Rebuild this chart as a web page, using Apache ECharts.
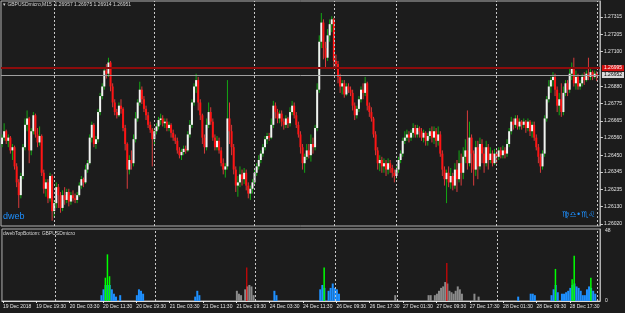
<!DOCTYPE html>
<html>
<head>
<meta charset="utf-8">
<script src="https://cdn.jsdelivr.net/npm/echarts@6/dist/echarts.min.js"></script>
<style>
  html, body { margin: 0; padding: 0; background: #1c1c1c; }
  #chart { width: 625px; height: 313px; }
</style>
</head>
<body>
<div id="chart"></div>
<script>
    // trading sessions: day, first bar time, number of 30 min bars
    var sessions = [
        ['19 Dec', '11:30', 25], ['20 Dec', '00:00', 48], ['21 Dec', '00:00', 48], ['24 Dec', '00:00', 38],
        ['26 Dec', '09:00', 30], ['27 Dec', '00:00', 48], ['28 Dec', '00:00', 48], ['29 Dec', '00:00', 1]
    ];

    var opens = [
        1.2652, 1.2656, 1.2660, 1.2654, 1.2656, 1.2648, 1.2650, 1.2638, 1.2628, 1.2620,
        1.2632, 1.2650, 1.2664, 1.2668, 1.2648, 1.2660, 1.2670, 1.2658, 1.2653, 1.2657,
        1.2634, 1.2624, 1.2628, 1.2618, 1.2632, 1.2610, 1.2615, 1.2625, 1.2620, 1.2612,
        1.2620, 1.2617, 1.2622, 1.2616, 1.2620, 1.2618, 1.2617, 1.2620, 1.2626, 1.2630,
        1.2628, 1.2636, 1.2640, 1.2656, 1.2664, 1.2652, 1.2655, 1.2672, 1.2682, 1.2688,
        1.2698, 1.2696, 1.2703, 1.2688, 1.2678, 1.2672, 1.2670, 1.2676, 1.2674, 1.2662,
        1.2652, 1.2636, 1.2642, 1.2640, 1.2655, 1.2668, 1.2678, 1.2686, 1.2680, 1.2674,
        1.2670, 1.2664, 1.2661, 1.2655, 1.2660, 1.2663, 1.2667, 1.2668, 1.2665, 1.2666,
        1.2662, 1.2664, 1.2659, 1.2656, 1.2654, 1.2648, 1.2645, 1.2647, 1.2649, 1.2648,
        1.2658, 1.2664, 1.2678, 1.2688, 1.2692, 1.2678, 1.2670, 1.2656, 1.2650, 1.2664,
        1.2672, 1.2666, 1.2656, 1.2650, 1.2654, 1.2648, 1.2640, 1.2636, 1.2638, 1.2668,
        1.2660, 1.2650, 1.2636, 1.2626, 1.2628, 1.2633, 1.2630, 1.2634, 1.2626, 1.2621,
        1.2624, 1.2628, 1.2634, 1.2638, 1.2642, 1.2646, 1.2650, 1.2655, 1.2657, 1.2656,
        1.2664, 1.2676, 1.2672, 1.2668, 1.2671, 1.2666, 1.2664, 1.2668, 1.2665, 1.2672,
        1.2676, 1.2670, 1.2664, 1.2658, 1.2650, 1.2640, 1.2644, 1.2648, 1.2645, 1.2652,
        1.2650, 1.2662, 1.2686, 1.2716, 1.2728, 1.2712, 1.2706, 1.2720, 1.2727, 1.2730,
        1.2704, 1.2702, 1.2694, 1.2688, 1.2690, 1.2683, 1.2688, 1.2686, 1.2684, 1.2676,
        1.2670, 1.2674, 1.2680, 1.2686, 1.2684, 1.2690, 1.2676, 1.2672, 1.2668, 1.2658,
        1.2648, 1.2640, 1.2642, 1.2638, 1.2640, 1.2636, 1.2640, 1.2637, 1.2634, 1.2632,
        1.2636, 1.2642, 1.2646, 1.2654, 1.2656, 1.2658, 1.2656, 1.2659, 1.2662, 1.2658,
        1.2662, 1.2660, 1.2656, 1.2659, 1.2654, 1.2657, 1.2660, 1.2656, 1.2660, 1.2654,
        1.2658, 1.2646, 1.2636, 1.2630, 1.2634, 1.2628, 1.2632, 1.2626, 1.2636, 1.2630,
        1.2640, 1.2634, 1.2644, 1.2648, 1.2640, 1.2656, 1.2646, 1.2636, 1.2650, 1.2638,
        1.2652, 1.2646, 1.2640, 1.2650, 1.2642, 1.2646, 1.2640, 1.2646, 1.2644, 1.2648,
        1.2645, 1.2648, 1.2646, 1.2652, 1.2660, 1.2666, 1.2664, 1.2668, 1.2663, 1.2666,
        1.2664, 1.2666, 1.2662, 1.2666, 1.2660, 1.2664, 1.2656, 1.2650, 1.2644, 1.2638,
        1.2646, 1.2668, 1.2680, 1.2688, 1.2692, 1.2694, 1.2686, 1.2676, 1.2680, 1.2672,
        1.2684, 1.2690, 1.2686, 1.2696, 1.2700, 1.2690, 1.2694, 1.2688, 1.2690, 1.2694,
        1.2692, 1.2696, 1.2694, 1.2697, 1.2694, 1.26957
    ];
    var closes = [
        1.2656, 1.2660, 1.2654, 1.2656, 1.2648, 1.2650, 1.2638, 1.2628, 1.2620, 1.2632,
        1.2650, 1.2664, 1.2668, 1.2648, 1.2660, 1.2670, 1.2658, 1.2653, 1.2657, 1.2634,
        1.2624, 1.2628, 1.2618, 1.2632, 1.2610, 1.2615, 1.2625, 1.2620, 1.2612, 1.2620,
        1.2617, 1.2622, 1.2616, 1.2620, 1.2618, 1.2617, 1.2620, 1.2626, 1.2630, 1.2628,
        1.2636, 1.2640, 1.2656, 1.2664, 1.2652, 1.2655, 1.2672, 1.2682, 1.2688, 1.2698,
        1.2696, 1.2703, 1.2688, 1.2678, 1.2672, 1.2670, 1.2676, 1.2674, 1.2662, 1.2652,
        1.2636, 1.2642, 1.2640, 1.2655, 1.2668, 1.2678, 1.2686, 1.2680, 1.2674, 1.2670,
        1.2664, 1.2661, 1.2655, 1.2660, 1.2663, 1.2667, 1.2668, 1.2665, 1.2666, 1.2662,
        1.2664, 1.2659, 1.2656, 1.2654, 1.2648, 1.2645, 1.2647, 1.2649, 1.2648, 1.2658,
        1.2664, 1.2678, 1.2688, 1.2692, 1.2678, 1.2670, 1.2656, 1.2650, 1.2664, 1.2672,
        1.2666, 1.2656, 1.2650, 1.2654, 1.2648, 1.2640, 1.2636, 1.2638, 1.2668, 1.2660,
        1.2650, 1.2636, 1.2626, 1.2628, 1.2633, 1.2630, 1.2634, 1.2626, 1.2621, 1.2624,
        1.2628, 1.2634, 1.2638, 1.2642, 1.2646, 1.2650, 1.2655, 1.2657, 1.2656, 1.2664,
        1.2676, 1.2672, 1.2668, 1.2671, 1.2666, 1.2664, 1.2668, 1.2665, 1.2672, 1.2676,
        1.2670, 1.2664, 1.2658, 1.2650, 1.2640, 1.2644, 1.2648, 1.2645, 1.2652, 1.2650,
        1.2662, 1.2686, 1.2716, 1.2728, 1.2712, 1.2706, 1.2720, 1.2727, 1.2730, 1.2704,
        1.2702, 1.2694, 1.2688, 1.2690, 1.2683, 1.2688, 1.2686, 1.2684, 1.2676, 1.2670,
        1.2674, 1.2680, 1.2686, 1.2684, 1.2690, 1.2676, 1.2672, 1.2668, 1.2658, 1.2648,
        1.2640, 1.2642, 1.2638, 1.2640, 1.2636, 1.2640, 1.2637, 1.2634, 1.2632, 1.2636,
        1.2642, 1.2646, 1.2654, 1.2656, 1.2658, 1.2656, 1.2659, 1.2662, 1.2658, 1.2662,
        1.2660, 1.2656, 1.2659, 1.2654, 1.2657, 1.2660, 1.2656, 1.2660, 1.2654, 1.2658,
        1.2646, 1.2636, 1.2630, 1.2634, 1.2628, 1.2632, 1.2626, 1.2636, 1.2630, 1.2640,
        1.2634, 1.2644, 1.2648, 1.2640, 1.2656, 1.2646, 1.2636, 1.2650, 1.2638, 1.2652,
        1.2646, 1.2640, 1.2650, 1.2642, 1.2646, 1.2640, 1.2646, 1.2644, 1.2648, 1.2645,
        1.2648, 1.2646, 1.2652, 1.2660, 1.2666, 1.2664, 1.2668, 1.2663, 1.2666, 1.2664,
        1.2666, 1.2662, 1.2666, 1.2660, 1.2664, 1.2656, 1.2650, 1.2644, 1.2638, 1.2646,
        1.2668, 1.2680, 1.2688, 1.2692, 1.2694, 1.2686, 1.2676, 1.2680, 1.2672, 1.2684,
        1.2690, 1.2686, 1.2696, 1.2700, 1.2690, 1.2694, 1.2688, 1.2690, 1.2694, 1.2692,
        1.2696, 1.2694, 1.2697, 1.2694, 1.2696, 1.26951
    ];
    var lows = [
        1.2650, 1.2654, 1.2652, 1.2650, 1.2646, 1.2642, 1.2636, 1.2625, 1.2612, 1.2618,
        1.2630, 1.2648, 1.2660, 1.2640, 1.2645, 1.2658, 1.2656, 1.2650, 1.2651, 1.2632,
        1.2621, 1.2619, 1.2615, 1.2616, 1.2604, 1.2606, 1.2612, 1.2612, 1.2609, 1.2610,
        1.2614, 1.2615, 1.2613, 1.2614, 1.2616, 1.2615, 1.2615, 1.2619, 1.2624, 1.2625,
        1.2627, 1.2634, 1.2639, 1.2653, 1.2650, 1.2649, 1.2653, 1.2670, 1.2680, 1.2686,
        1.2693, 1.2694, 1.2685, 1.2675, 1.2670, 1.2668, 1.2669, 1.2671, 1.2660, 1.2648,
        1.2624, 1.2633, 1.2636, 1.2638, 1.2653, 1.2666, 1.2676, 1.2677, 1.2672, 1.2667,
        1.2662, 1.2659, 1.2638, 1.2652, 1.2658, 1.2661, 1.2664, 1.2663, 1.2662, 1.2660,
        1.2660, 1.2656, 1.2654, 1.2652, 1.2646, 1.2643, 1.2642, 1.2645, 1.2646, 1.2647,
        1.2656, 1.2662, 1.2676, 1.2684, 1.2673, 1.2667, 1.2652, 1.2646, 1.2648, 1.2662,
        1.2664, 1.2654, 1.2648, 1.2648, 1.2646, 1.2638, 1.2633, 1.2631, 1.2636, 1.2652,
        1.2645, 1.2633, 1.2622, 1.2619, 1.2625, 1.2626, 1.2627, 1.2623, 1.2618, 1.2617,
        1.2621, 1.2626, 1.2632, 1.2636, 1.2640, 1.2644, 1.2648, 1.2652, 1.2654, 1.2655,
        1.2662, 1.2668, 1.2665, 1.2665, 1.2663, 1.2661, 1.2662, 1.2662, 1.2663, 1.2670,
        1.2668, 1.2662, 1.2656, 1.2646, 1.2636, 1.2634, 1.2642, 1.2643, 1.2641, 1.2646,
        1.2648, 1.2660, 1.2684, 1.2712, 1.2705, 1.2700, 1.2704, 1.2716, 1.2722, 1.2700,
        1.2699, 1.2690, 1.2684, 1.2683, 1.2681, 1.2682, 1.2684, 1.2682, 1.2673, 1.2667,
        1.2668, 1.2672, 1.2678, 1.2680, 1.2682, 1.2673, 1.2669, 1.2666, 1.2656, 1.2645,
        1.2636, 1.2635, 1.2634, 1.2634, 1.2632, 1.2633, 1.2634, 1.2631, 1.2628, 1.2630,
        1.2634, 1.2640, 1.2644, 1.2652, 1.2654, 1.2653, 1.2654, 1.2656, 1.2656, 1.2656,
        1.2656, 1.2654, 1.2653, 1.2651, 1.2651, 1.2655, 1.2653, 1.2652, 1.2650, 1.2651,
        1.2644, 1.2632, 1.2626, 1.2615, 1.2625, 1.2624, 1.2623, 1.2624, 1.2622, 1.2628,
        1.2626, 1.2630, 1.2640, 1.2636, 1.2638, 1.2634, 1.2626, 1.2632, 1.2630, 1.2636,
        1.2640, 1.2634, 1.2638, 1.2636, 1.2640, 1.2638, 1.2639, 1.2640, 1.2642, 1.2643,
        1.2643, 1.2643, 1.2644, 1.2650, 1.2658, 1.2661, 1.2662, 1.2661, 1.2661, 1.2661,
        1.2662, 1.2659, 1.2660, 1.2657, 1.2656, 1.2654, 1.2648, 1.2640, 1.2634, 1.2636,
        1.2644, 1.2666, 1.2678, 1.2684, 1.2688, 1.2682, 1.2672, 1.2670, 1.2669, 1.2670,
        1.2682, 1.2682, 1.2684, 1.2692, 1.2688, 1.2686, 1.2686, 1.2686, 1.2688, 1.2689,
        1.2691, 1.2692, 1.2692, 1.2692, 1.2693, 1.26914
    ];
    var highs = [
        1.2658, 1.2665, 1.2661, 1.2658, 1.2657, 1.2652, 1.2651, 1.2640, 1.2630, 1.2634,
        1.2652, 1.2668, 1.2673, 1.2669, 1.2662, 1.2672, 1.2671, 1.2662, 1.2663, 1.2658,
        1.2636, 1.2630, 1.2630, 1.2634, 1.2633, 1.2617, 1.2628, 1.2627, 1.2622, 1.2623,
        1.2625, 1.2624, 1.2624, 1.2622, 1.2623, 1.2621, 1.2622, 1.2628, 1.2632, 1.2631,
        1.2639, 1.2642, 1.2658, 1.2666, 1.2665, 1.2657, 1.2674, 1.2684, 1.2690, 1.2700,
        1.2702, 1.2706, 1.2704, 1.2690, 1.2680, 1.2674, 1.2678, 1.2680, 1.2675, 1.2664,
        1.2653, 1.2645, 1.2648, 1.2658, 1.2672, 1.2680, 1.2691, 1.2688, 1.2682, 1.2676,
        1.2672, 1.2666, 1.2662, 1.2662, 1.2665, 1.2669, 1.2671, 1.2670, 1.2668, 1.2668,
        1.2666, 1.2665, 1.2661, 1.2658, 1.2656, 1.2650, 1.2649, 1.2651, 1.2651, 1.2660,
        1.2667, 1.2680, 1.2690, 1.2696, 1.2694, 1.2680, 1.2671, 1.2658, 1.2668, 1.2678,
        1.2675, 1.2668, 1.2658, 1.2657, 1.2656, 1.2650, 1.2643, 1.2640, 1.2692, 1.2678,
        1.2664, 1.2652, 1.2638, 1.2632, 1.2638, 1.2636, 1.2637, 1.2636, 1.2628, 1.2626,
        1.2630, 1.2636, 1.2640, 1.2645, 1.2648, 1.2652, 1.2657, 1.2659, 1.2659, 1.2668,
        1.2679, 1.2678, 1.2674, 1.2673, 1.2673, 1.2668, 1.2670, 1.2669, 1.2675, 1.2679,
        1.2678, 1.2672, 1.2666, 1.2660, 1.2652, 1.2646, 1.2652, 1.2652, 1.2658, 1.2656,
        1.2664, 1.2690, 1.2720, 1.2734, 1.2730, 1.2716, 1.2724, 1.2730, 1.2732, 1.2731,
        1.2708, 1.2704, 1.2696, 1.2692, 1.2692, 1.2690, 1.2690, 1.2688, 1.2686, 1.2678,
        1.2676, 1.2682, 1.2688, 1.2690, 1.2694, 1.2691, 1.2678, 1.2675, 1.2669, 1.2660,
        1.2650, 1.2645, 1.2644, 1.2643, 1.2642, 1.2643, 1.2642, 1.2639, 1.2636, 1.2638,
        1.2644, 1.2648, 1.2656, 1.2660, 1.2661, 1.2660, 1.2661, 1.2665, 1.2664, 1.2664,
        1.2663, 1.2662, 1.2661, 1.2660, 1.2659, 1.2662, 1.2663, 1.2663, 1.2662, 1.2663,
        1.2660, 1.2648, 1.2638, 1.2636, 1.2638, 1.2637, 1.2634, 1.2640, 1.2642, 1.2648,
        1.2646, 1.2650, 1.2655, 1.2673, 1.2666, 1.2658, 1.2648, 1.2654, 1.2654, 1.2656,
        1.2655, 1.2650, 1.2654, 1.2652, 1.2650, 1.2648, 1.2649, 1.2648, 1.2650, 1.2650,
        1.2651, 1.2650, 1.2655, 1.2662, 1.2669, 1.2668, 1.2670, 1.2670, 1.2668, 1.2667,
        1.2668, 1.2667, 1.2668, 1.2667, 1.2666, 1.2666, 1.2658, 1.2652, 1.2646, 1.2648,
        1.2670, 1.2682, 1.2692, 1.2694, 1.2697, 1.2696, 1.2688, 1.2684, 1.2690, 1.2688,
        1.2692, 1.2692, 1.2699, 1.2703, 1.2706, 1.2698, 1.2696, 1.2692, 1.2696, 1.2697,
        1.2698, 1.2706, 1.2699, 1.2698, 1.2698, 1.26975
    ];

    // price scale labels on the right
    var priceTicks = [1.27315, 1.27205, 1.27100, 1.26880, 1.26775, 1.26665, 1.26560,
        1.26450, 1.26345, 1.26235, 1.26130, 1.26020];
    var alertLevel = 1.26995;
    var bidLevel = 1.26952;

    // dwebTopBottom histogram: [bar index, value]
    var blueBars = [[47, 4], [48, 8], [49, 11], [50, 11], [51, 11], [52, 8], [53, 5], [54, 3], [56, 4],
        [64, 4], [65, 8], [66, 7], [67, 5], [92, 3], [93, 7], [94, 4], [130, 7], [131, 4],
        [152, 8], [153, 11], [154, 9], [156, 7], [157, 9], [158, 12], [159, 9], [160, 8], [161, 5],
        [247, 3], [253, 5], [254, 5], [255, 4], [263, 4], [264, 8], [265, 11], [266, 6],
        [268, 5], [269, 5], [270, 6], [271, 7], [272, 9], [273, 11], [274, 12], [275, 10], [276, 9],
        [277, 7], [278, 4], [279, 4], [280, 8], [281, 10], [282, 9], [283, 7], [284, 5]];
    var greenBars = [[49, 16], [50, 32], [51, 17], [154, 23], [265, 22], [273, 15], [274, 31], [282, 16]];
    var grayBars = [[112, 7], [113, 5], [114, 4], [116, 8], [117, 10], [118, 11], [119, 10], [120, 4],
        [188, 4], [204, 4], [205, 4], [207, 4], [208, 5], [209, 7], [210, 9], [211, 10], [212, 13],
        [213, 12], [214, 7], [215, 6], [216, 5], [217, 7], [218, 10], [219, 8], [220, 5], [226, 5], [228, 3]];
    var redBars = [[117, 23], [213, 26]];
    var histTicks = [0, 48];

    // bar times from the sessions
    var categories = [];
    var separators = [];
    sessions.forEach(function(s, n) {
        var hm = s[1].split(':');
        var start = (+hm[0]) * 60 + (+hm[1]);
        if (n > 0) separators.push(categories.length);
        for (var k = 0; k < s[2]; k++) {
            var m = start + k * 30;
            var hh = Math.floor(m / 60), mm = m % 60;
            categories.push(s[0] + ' ' + (hh < 10 ? '0' : '') + hh + ':' + (mm < 10 ? '0' : '') + mm);
        }
    });
    categories.push('');

    var candleData = opens.map(function(o, i) {
        return [i, o, closes[i], lows[i], highs[i]];
    });

    var font = 'Liberation Sans';
    var axisText = '#e4e4e4';
    var frame = '#b0b0b0';

    var sepLines = separators.map(function(i) {
        return { xAxis: categories[i], lineStyle: { color: '#c8c8c8', type: [2, 2], width: 1 }, label: { show: false } };
    });

    // one carrier series per horizontal level, each with its own price box
    function levelSeries(level, lineColor, lineWidth, boxColor, textColor) {
        return {
            type: 'line', xAxisIndex: 0, yAxisIndex: 0, data: [], z: 2,
            symbol: 'none', silent: true,
            markLine: {
                symbol: ['none', 'none'], silent: true, animation: false, precision: 5,
                lineStyle: { color: lineColor, width: lineWidth, type: 'solid' },
                label: {
                    show: true, position: 'end', distance: 2, formatter: level.toFixed(5),
                    backgroundColor: boxColor, color: textColor, fontSize: 5, lineHeight: 6,
                    padding: [0, 2], fontFamily: font
                },
                data: [{ yAxis: level }]
            }
        };
    }

    var chart = echarts.init(document.getElementById('chart'));
    chart.setOption({
        backgroundColor: '#1c1c1c',
        animation: false,
        textStyle: { fontFamily: font },
        title: [
            {
                text: '▾ GBPUSDmicro,M15  1.26957 1.26975 1.26914 1.26951',
                left: 3, top: 2, padding: 0,
                textStyle: { color: '#d4d4d4', fontSize: 5, fontWeight: 'normal', fontFamily: font }
            },
            {
                text: 'dweb', left: 3, top: 212, padding: 0,
                textStyle: { color: '#1e90ff', fontSize: 9, fontWeight: 'normal', fontFamily: font }
            },
            {
                text: '♍♎•♏♌', left: 562, top: 211, padding: 0,
                textStyle: { color: '#1e90ff', fontSize: 8, fontWeight: 'normal', fontFamily: 'DejaVu Sans' }
            },
            {
                text: 'dwebTopBottom: GBPUSDmicro', left: 3, top: 231, padding: 0,
                textStyle: { color: '#d4d4d4', fontSize: 5, fontWeight: 'normal', fontFamily: font }
            }
        ],
        grid: [
            { left: 1, top: 1, width: 599, height: 225, show: true, borderColor: frame, borderWidth: 1 },
            { left: 1, top: 229, width: 599, height: 72, show: true, borderColor: frame, borderWidth: 1 }
        ],
        xAxis: [
            {
                gridIndex: 0, type: 'category', data: categories, boundaryGap: true,
                axisLine: { show: false }, axisTick: { show: false }, axisLabel: { show: false }
            },
            {
                gridIndex: 1, type: 'category', data: categories, boundaryGap: true,
                axisLine: { show: true, lineStyle: { color: '#d8d8d8' } },
                axisTick: { show: true, interval: 15, alignWithLabel: true, length: 2, lineStyle: { color: '#e8e8e8' } },
                axisLabel: {
                    interval: 15, align: 'left', margin: 3, fontSize: 5, color: axisText, fontFamily: font,
                    formatter: function(value, index) {
                        return index === 0 ? '19 Dec 2018' : value;
                    }
                }
            }
        ],
        yAxis: [
            {
                gridIndex: 0, type: 'value', position: 'right', min: 1.26007, max: 1.27415,
                axisLine: { show: true, lineStyle: { color: frame } },
                axisTick: { show: true, customValues: priceTicks, length: 3, lineStyle: { color: '#d0d0d0' } },
                axisLabel: {
                    customValues: priceTicks, margin: 4, fontSize: 5, color: axisText, fontFamily: font,
                    formatter: function(v) { return v.toFixed(5); }
                },
                splitLine: { show: false }
            },
            {
                gridIndex: 1, type: 'value', position: 'right', min: 0, max: 49.4,
                axisLine: { show: true, lineStyle: { color: frame } },
                axisTick: { show: false },
                axisLabel: { customValues: histTicks, margin: 5, fontSize: 5, color: axisText, fontFamily: font },
                splitLine: { show: false }
            }
        ],
        series: [
            {
                // day separators
                type: 'line', xAxisIndex: 0, yAxisIndex: 0, data: [], z: 1,
                symbol: 'none', silent: true,
                markLine: { symbol: ['none', 'none'], silent: true, animation: false, data: sepLines }
            },
            levelSeries(alertLevel, '#8c0c0c', 2, '#d41010', '#ffffff'),
            levelSeries(bidLevel, '#a0a0a0', 1, '#d8d8d8', '#000000'),
            {
                type: 'custom', xAxisIndex: 0, yAxisIndex: 0, z: 3, clip: true,
                data: candleData,
                encode: { x: 0, y: [1, 2, 3, 4] },
                renderItem: function(params, api) {
                    var i = api.value(0);
                    var o = api.value(1), c = api.value(2), lo = api.value(3), hi = api.value(4);
                    var pO = api.coord([i, o]), pC = api.coord([i, c]);
                    var pL = api.coord([i, lo]), pH = api.coord([i, hi]);
                    var up = c >= o;
                    var x = pO[0];
                    var bw = 2;
                    var top = Math.min(pO[1], pC[1]);
                    var h = Math.max(Math.abs(pO[1] - pC[1]), 1);
                    return {
                        type: 'group',
                        children: [
                            {
                                type: 'line', shape: { x1: x, y1: pH[1], x2: x, y2: pL[1] },
                                style: { stroke: up ? '#14a814' : '#d83c3c', lineWidth: 1 }
                            },
                            {
                                type: 'rect', shape: { x: x - bw / 2, y: top, width: bw, height: h },
                                style: { fill: up ? '#f2f2f2' : '#ff1414' }
                            }
                        ]
                    };
                }
            },
            {
                type: 'bar', xAxisIndex: 1, yAxisIndex: 1, data: blueBars, barWidth: 2, barGap: '-100%',
                itemStyle: { color: '#1e90ff' }, silent: true,
                markLine: { symbol: ['none', 'none'], silent: true, animation: false, data: sepLines }
            },
            {
                type: 'bar', xAxisIndex: 1, yAxisIndex: 1, data: grayBars, barWidth: 2, barGap: '-100%',
                itemStyle: { color: '#8a8a8a' }, silent: true
            },
            {
                type: 'bar', xAxisIndex: 1, yAxisIndex: 1, data: greenBars, barWidth: 1.5, barGap: '-100%',
                itemStyle: { color: '#00ff00' }, silent: true, z: 3
            },
            {
                type: 'bar', xAxisIndex: 1, yAxisIndex: 1, data: redBars, barWidth: 1, barGap: '-100%',
                itemStyle: { color: '#ff0000' }, silent: true, z: 3
            }
        ]
    });
</script>
</body>
</html>
